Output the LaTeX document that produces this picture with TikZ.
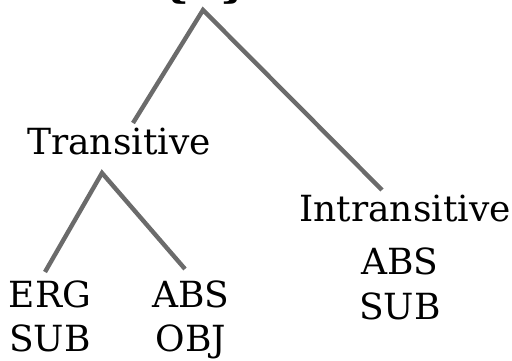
\documentclass[tikz,border=0pt]{standalone}
\usepackage{fontspec}
\setmainfont{DejaVu Serif}
\begin{document}
\begin{tikzpicture}[x=1pt,y=1pt,
  edge/.style={draw=black!58, line width=4.4pt},
  lbl/.style={inner sep=0pt, anchor=base, font=\fontsize{36}{44}\selectfont, align=center}]
\useasboundingbox (0,0) rectangle (512,361);
\clip (0,0) rectangle (512,361);
% top (cropped) label
\node[inner sep=0pt, anchor=base, font=\fontsize{42}{48}\selectfont\bfseries] (top) at (205,363) {\{S\}};
\coordinate (apex) at (203,351);
\coordinate (tl) at (133,238);
\coordinate (tr) at (382,171);
\node[lbl] (trans) at (119,206) {Transitive};
\coordinate (tapex) at (102,188);
\coordinate (ll) at (45,89);
\coordinate (lr) at (185,92);
\node[lbl] (intr) at (405,139) {Intransitive};
\node[lbl, anchor=base] (erg) at (50,53) {ERG};
\node[lbl, anchor=base] (ergs) at (50,9) {SUB};
\node[lbl, anchor=base] (abs) at (191,53) {ABS};
\node[lbl, anchor=base] (abso) at (191,9) {OBJ};
\node[lbl, anchor=base] (abs2) at (400,86) {ABS};
\node[lbl, anchor=base] (abs2s) at (400,41) {SUB};
\draw[edge] (tl) -- (apex) -- (tr);
\draw[edge] (ll) -- (tapex) -- (lr);
\end{tikzpicture}
\end{document}
